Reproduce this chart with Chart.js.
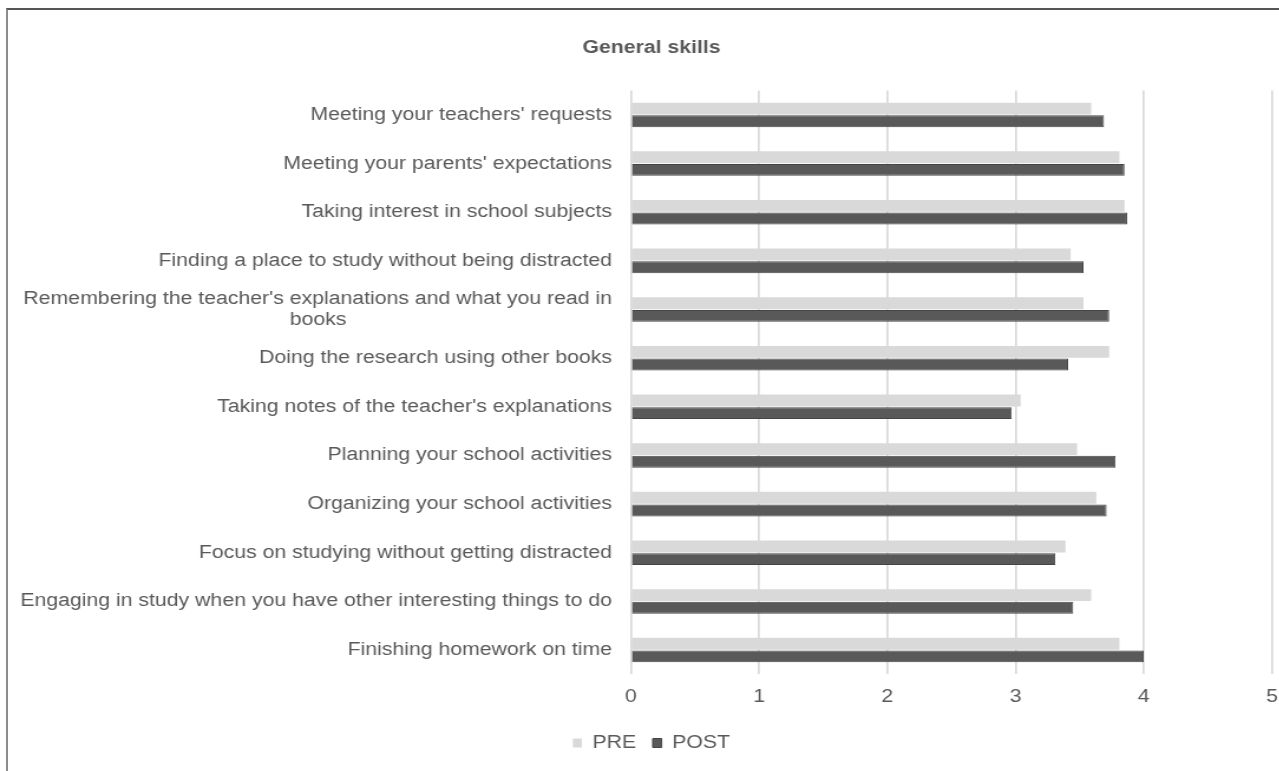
<!DOCTYPE html>
<html>
<head>
<meta charset="utf-8">
<script src="https://cdn.jsdelivr.net/npm/chart.js@4/dist/chart.umd.min.js"></script>
<style>
  html, body { margin: 0; padding: 0; background: #fff; overflow: hidden; }
  #wrap { position: absolute; left: 0; top: 0; width: 1279px; height: 771px; overflow: hidden; }
  #frame { position: absolute; left: 6px; top: 8px; width: 1400px; height: 900px;
           border-top: 2px solid #555; border-left: 2px solid #8c8c8c; pointer-events: none; }
  canvas { position: absolute; left: 0; top: 0; }
</style>
</head>
<body>
<div id="wrap">
  <canvas id="c" width="1104" height="771" style="width:1303px;height:771px"></canvas>
  <div id="frame"></div>
</div>
<script>
const NB = '\u00A0';
const categories = [
  "Meeting your teachers' requests",
  "Meeting your parents' expectations",
  "Taking interest in school subjects",
  "Finding a place to study without being distracted",
  ["Remembering the teacher's explanations and what you read in", "books" + NB.repeat(45)],
  "Doing the research using other books",
  "Taking notes of the teacher's explanations",
  "Planning your school activities",
  "Organizing your school activities",
  "Focus on studying without getting distracted",
  "Engaging in study when you have other interesting things to do",
  "Finishing homework on time"
];
const preValues  = [3.59, 3.81, 3.85, 3.43, 3.53, 3.73, 3.04, 3.48, 3.63, 3.39, 3.59, 3.81];
const postValues = [3.69, 3.85, 3.87, 3.53, 3.73, 3.41, 2.97, 3.78, 3.71, 3.31, 3.45, 4.00];
const xTicks = [0, 1, 2, 3, 4, 5];
const seriesNames = ["PRE", "POST"];
const chartTitle = "General skills";

Chart.defaults.font.family = "'Liberation Sans', Arial, sans-serif";
Chart.defaults.color = "#595959";

new Chart(document.getElementById('c'), {
  type: 'bar',
  data: {
    labels: categories,
    datasets: [
      { label: seriesNames[0], data: preValues, backgroundColor: '#d9d9d9', borderColor: '#d9d9d9', borderWidth: 0,
        categoryPercentage: 0.52, barPercentage: 0.94 },
      { label: seriesNames[1], data: postValues, backgroundColor: '#595959', borderColor: '#454545', borderWidth: 1,
        categoryPercentage: 0.52, barPercentage: 0.94 }
    ]
  },
  options: {
    indexAxis: 'y',
    responsive: false,
    maintainAspectRatio: false,
    devicePixelRatio: 1,
    animation: false,
    events: [],
    layout: { padding: { left: 0, right: 0, top: 0, bottom: 9 } },
    plugins: {
      title: { display: true, text: chartTitle, color: '#595959',
               font: { size: 18, weight: 'bold' }, padding: { top: 37, bottom: 32 } },
      legend: { position: 'bottom',
                labels: { boxWidth: 7.6, boxHeight: 9, font: { size: 18 }, color: '#595959', padding: 14 } },
      tooltip: { enabled: false }
    },
    scales: {
      x: {
        min: 0, max: 5,
        afterBuildTicks: (s) => { s.ticks = xTicks.map(v => ({ value: v })); },
        afterFit: (s) => { s.paddingRight = 26.3; s.paddingLeft = 0; },
        grid: { color: '#d9d9d9', lineWidth: 1.7, drawTicks: false },
        border: { display: false },
        ticks: { font: { size: 18 }, color: '#595959', padding: 12 }
      },
      y: {
        grid: { display: false, drawTicks: false },
        border: { display: false },
        ticks: { font: { size: 18 }, color: '#595959', padding: 16, autoSkip: false },
        afterFit: (s) => { s.width = 534.6; }
      }
    }
  }
});
</script>
</body>
</html>
